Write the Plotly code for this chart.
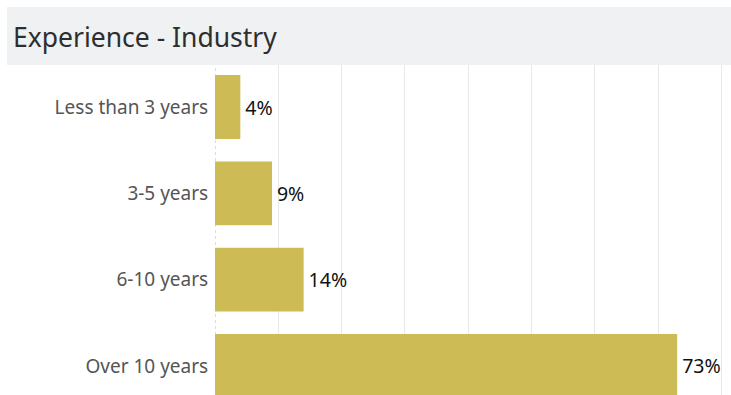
import plotly.graph_objects as go

categories = ["Less than 3 years", "3-5 years", "6-10 years", "Over 10 years"]
shares = [4, 9, 14, 73]
labels = [f"{v}%" for v in shares]

W, H = 731, 395
ML, MR, MT, MB = 215, 0, 65, 0
plot_w = W - ML - MR
plot_h = H - MT - MB

fig = go.Figure()
fig.add_trace(go.Bar(
    x=shares,
    y=list(range(len(categories))),
    orientation="h",
    width=0.74,
    marker=dict(color="#CDBB55", line=dict(width=0)),
    text=labels,
    texttemplate="\u200a%{text}",
    textposition="outside",
    cliponaxis=False,
    textfont=dict(family="Noto Sans", size=19.5, color="#111111"),
    hoverinfo="skip",
))

# title band across the top
fig.add_shape(type="rect", xref="paper", yref="paper",
              x0=(7 - ML) / plot_w, x1=1.0,
              y0=1.0, y1=1 + (MT - 7) / plot_h,
              fillcolor="#EFF1F2", line=dict(width=0), layer="below")
fig.add_annotation(text="Experience - Industry", xref="paper", yref="paper",
                   x=(11 - ML) / plot_w, y=1 + (MT - 37) / plot_h,
                   xanchor="left", yanchor="middle", showarrow=False,
                   font=dict(family="Noto Sans", size=26.5, color="#2E2E2E"))

# dotted baseline at zero
fig.add_shape(type="line", xref="x", yref="paper", x0=0, x1=0, y0=0, y1=1,
              line=dict(color="#BBBBBB", width=1, dash="dot"))

fig.update_layout(
    width=W, height=H,
    margin=dict(l=ML, r=MR, t=MT, b=MB),
    paper_bgcolor="white", plot_bgcolor="white",
    showlegend=False,
    xaxis=dict(range=[0, 81.5], dtick=10, showgrid=True, gridcolor="#E8E8E8",
               gridwidth=1, showticklabels=False, zeroline=False,
               showline=False, ticks=""),
    yaxis=dict(range=[3.337, -0.487], tickvals=list(range(len(categories))),
               ticktext=categories, showgrid=False, zeroline=False,
               showline=False, ticks="outside", ticklen=2, tickcolor="rgba(0,0,0,0)",
               tickfont=dict(family="Noto Sans", size=19, color="#555555")),
)

fig.write_html("out.html")
